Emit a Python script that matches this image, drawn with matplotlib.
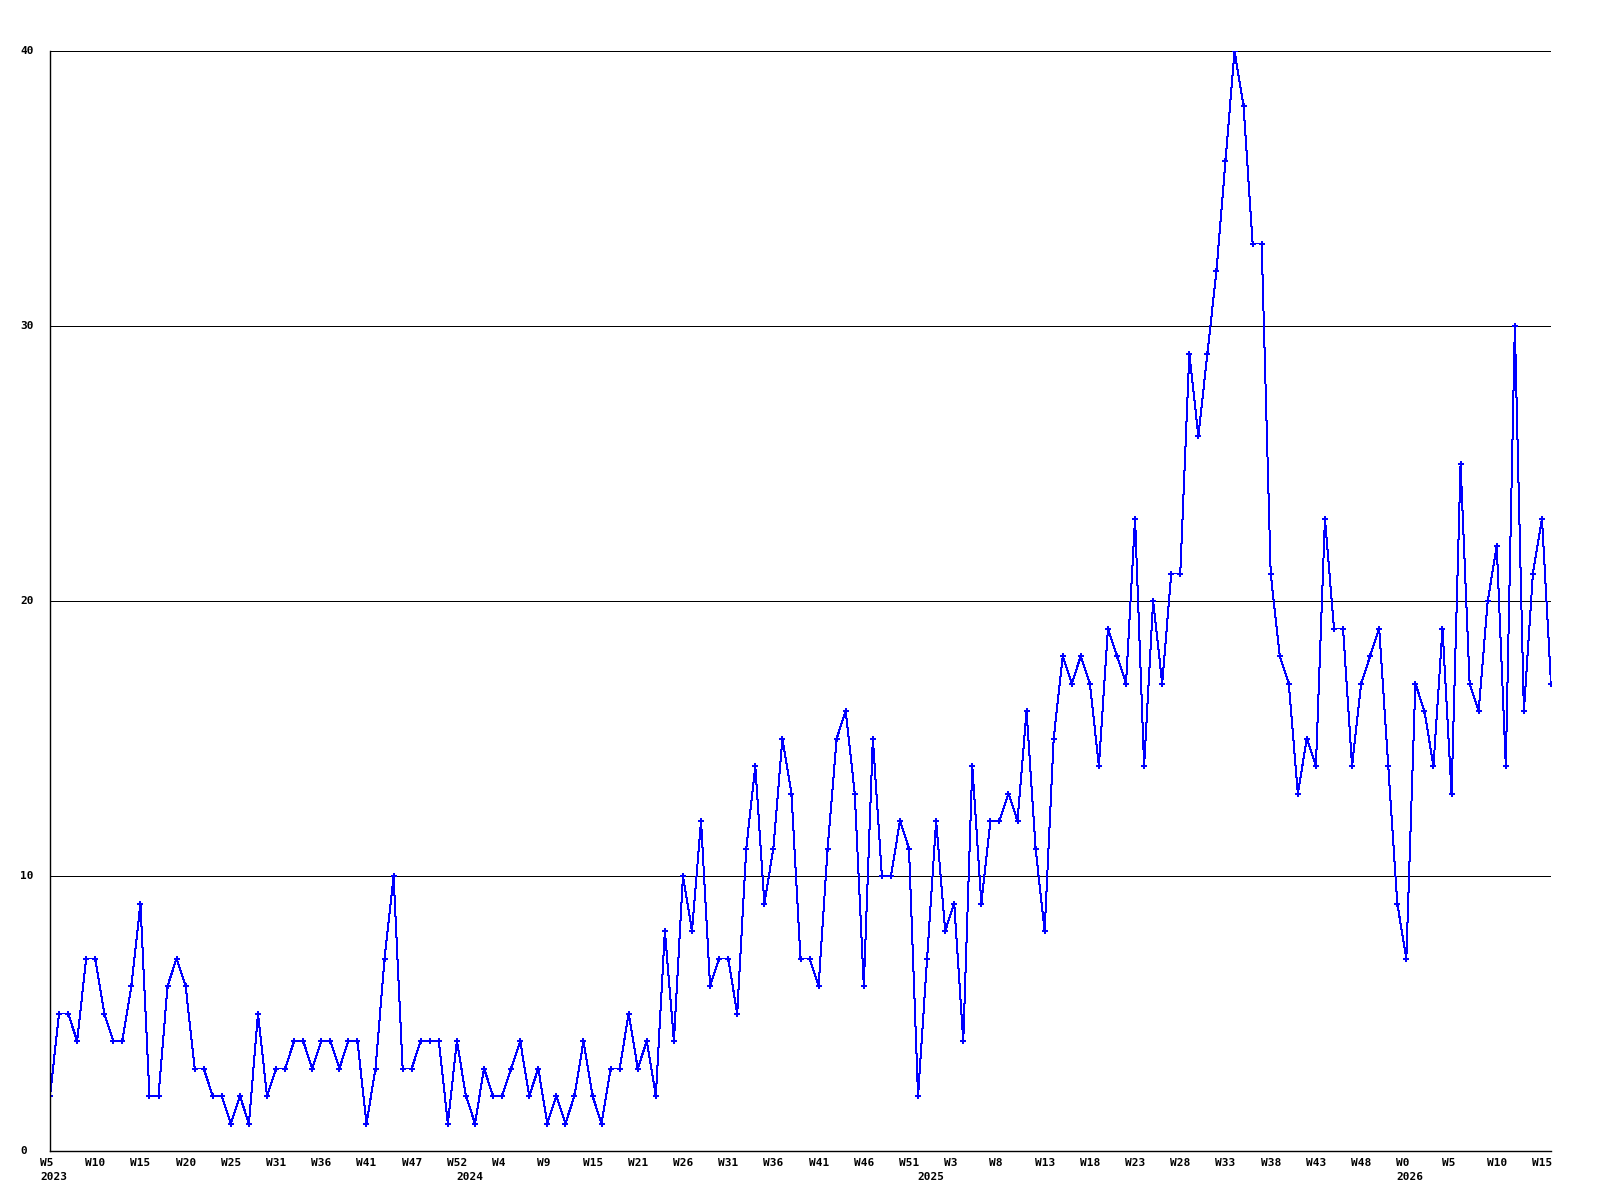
import numpy as np
import matplotlib
matplotlib.use('Agg')
import matplotlib.pyplot as plt

# ---------------------------------------------------------------------------
# Data: weekly counts, 2023 W5 .. 2026 W16
# ---------------------------------------------------------------------------
counts = [
    2, 5, 5, 4, 7, 7, 5, 4, 4, 6,
    9, 2, 2, 6, 7, 6, 3, 3, 2, 2,
    1, 2, 1, 5, 2, 3, 3, 4, 4, 3,
    4, 4, 3, 4, 4, 1, 3, 7, 10, 3,
    3, 4, 4, 4, 1, 4, 2, 1, 3, 2,
    2, 3, 4, 2, 3, 1, 2, 1, 2, 4,
    2, 1, 3, 3, 5, 3, 4, 2, 8, 4,
    10, 8, 12, 6, 7, 7, 5, 11, 14, 9,
    11, 15, 13, 7, 7, 6, 11, 15, 16, 13,
    6, 15, 10, 10, 12, 11, 2, 7, 12, 8,
    9, 4, 14, 9, 12, 12, 13, 12, 16, 11,
    8, 15, 18, 17, 18, 17, 14, 19, 18, 17,
    23, 14, 20, 17, 21, 21, 29, 26, 29, 32,
    36, 40, 38, 33, 33, 21, 18, 17, 13, 15,
    14, 23, 19, 19, 14, 17, 18, 19, 14, 9,
    7, 17, 16, 14, 19, 13, 25, 17, 16, 20,
    22, 14, 30, 16, 21, 23, 17,
]

# x tick labels, one every 5 weeks
week_labels = ['W5', 'W10', 'W15', 'W20', 'W25', 'W31', 'W36', 'W41', 'W47',
               'W52', 'W4', 'W9', 'W15', 'W21', 'W26', 'W31', 'W36', 'W41',
               'W46', 'W51', 'W3', 'W8', 'W13', 'W18', 'W23', 'W28', 'W33',
               'W38', 'W43', 'W48', 'W0', 'W5', 'W10', 'W15']
years = ['2023', '2024', '2025', '2026']
year_pos = [0, 46, 97, 150]   # week index where each year label sits

y_ticks = [0, 10, 20, 30, 40]

# ---------------------------------------------------------------------------
# Plot
# ---------------------------------------------------------------------------
plt.rcParams['lines.antialiased'] = False
font = dict(family='DejaVu Sans Mono', weight='bold', size=8)

fig = plt.figure(figsize=(16, 12), dpi=100)
ax = fig.add_axes([50 / 1600, 1 - 1151 / 1200, 1501 / 1600, 1100 / 1200])

x = np.arange(len(counts))
ax.plot(x, counts, color='#0000ff', linewidth=0.72, marker='P',
        markersize=4.5, markeredgewidth=0)

ax.set_xlim(0, len(counts) - 1)
ax.set_ylim(0, 40)

for v in y_ticks[1:]:
    ax.axhline(v, color='black', linewidth=0.72, zorder=0)

for s in ['top', 'right']:
    ax.spines[s].set_visible(False)
for s in ['left', 'bottom']:
    ax.spines[s].set_linewidth(1.0)

ax.set_xticks([])
ax.set_yticks([])

# week labels under the axis
tick_idx = np.arange(len(week_labels)) * 5
for i, lab in zip(tick_idx, week_labels):
    ax.annotate(lab, xy=(i, 0), xycoords=('data', 'axes fraction'),
                xytext=(-10, -7), textcoords='offset pixels',
                ha='left', va='top', **font)

for p, lab in zip(year_pos, years):
    ax.annotate(lab, xy=(p, 0), xycoords=('data', 'axes fraction'),
                xytext=(-10, -21), textcoords='offset pixels',
                ha='left', va='top', **font)

# y labels at the far left
for v in y_ticks:
    ax.annotate(str(v), xy=(20, v), xycoords=('figure pixels', 'data'),
                ha='left', va='center', annotation_clip=False, **font)

plt.savefig('out.png', dpi=100)
